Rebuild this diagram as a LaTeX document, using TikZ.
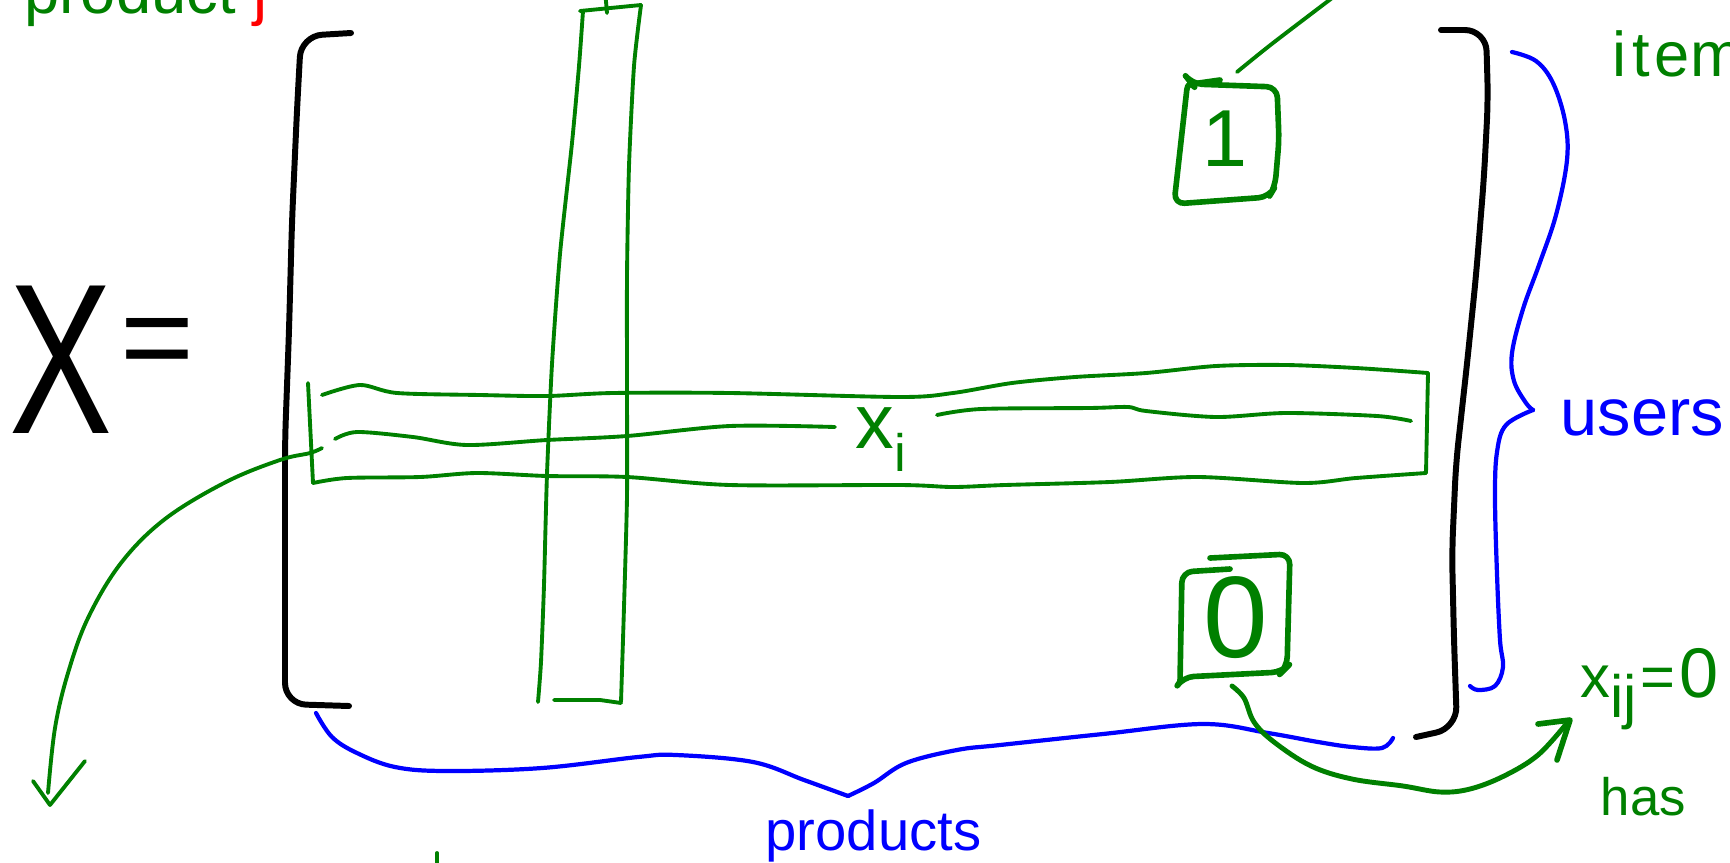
\documentclass[tikz,border=0pt]{standalone}
\usepackage{fontspec}
\setmainfont{Liberation Sans}
\definecolor{pgreen}{RGB}{0,128,0}
\definecolor{pblue}{RGB}{0,0,255}
\definecolor{pred}{RGB}{255,0,0}
\begin{document}
\begin{tikzpicture}[x=0.1mm,y=-0.1mm, line cap=round, line join=round,
  blk/.style={draw=black,line width=1.7pt,rounded corners=6pt},
  grn/.style={draw=pgreen,line width=1.1pt},
  grnb/.style={draw=pgreen,line width=1.6pt,rounded corners=3pt},
  blu/.style={draw=pblue,line width=1.2pt},
  lbl/.style={inner sep=0pt, anchor=base west},
  ctr/.style={inner sep=0pt, anchor=center},
]
\useasboundingbox (0,0) rectangle (1730,862);
\clip (0,0) rectangle (1730,862);

% ---------- texts ----------
\node[lbl, text=pgreen, font=\fontsize{18}{18}\selectfont] (prod) at (24,13) {product \textcolor{pred}{j}};
\node[lbl, font=\fontsize{61}{61}\selectfont] (X) at (9,433) {\scalebox{0.72}[1]{X}};
\node[ctr, font=\fontsize{36}{36}\selectfont] (eq) at (157,349) {=};
\node[lbl, text=pgreen, font=\fontsize{22}{22}\selectfont] (xi) at (855,448) {x\raisebox{-0.3em}{\fontsize{15}{15}\selectfont i}};
\node[lbl, text=pblue, font=\fontsize{19}{19}\selectfont] (users) at (1560,435) {users};
\node[lbl, text=pgreen, font=\fontsize{18}{18}\selectfont] (items) at (1612,76) {i\kern1.5pt t\kern1.5pt em};
\node[lbl, text=pblue, font=\fontsize{16}{16}\selectfont] (products) at (765,850) {products};
\node[lbl, text=pgreen, font=\fontsize{17}{17}\selectfont] (xij) at (1580,697) {x\raisebox{-0.35em}{ij}\kern1pt=\kern1pt{\fontsize{20}{20}\selectfont 0}};
\node[lbl, text=pgreen, font=\fontsize{15}{15}\selectfont] (has) at (1600,815) {has};
\node[ctr, text=pgreen, font=\fontsize{23}{23}\selectfont] (one) at (1225,139) {1};
\node[ctr, text=pgreen, font=\fontsize{33}{33}\selectfont] (zero) at (1236,618) {0};

% ---------- matrix brackets ----------
\draw[blk] (351,33) -- (301,36) -- (297,110) -- (292,221) -- (289,331) -- (285,441) -- (285,552) -- (285,704) -- (349,706);
\draw[blk] (1441,30) -- (1486,30) -- (1488,100) -- (1484,177) -- (1476,276) -- (1467,364) -- (1456,463) -- (1452,552) -- (1454,640) -- (1457,728) -- (1416,737);

% ---------- column j ----------
\draw[grn] plot[smooth, tension=0.4] coordinates {(583,11) (579,66) (572,143) (560,254) (552,364) (547,474) (544,585) (541,662) (538,702)};
\draw[grn] plot[smooth, tension=0.4] coordinates {(641,5) (634,66) (629,166) (627,276) (627,386) (627,496) (624,607) (621,702)};
\draw[grn] (554,700) -- (600,700) -- (621,703);
\draw[grn] (580,11) -- (641,5);
\coordinate (colTop) at (607,13);
\coordinate (colUp) at (605,-10);
\draw[grn] (colTop) -- (colUp);

% ---------- row i ----------
\draw[grn] (308,383) -- (313,483);
\draw[grn] plot[smooth, tension=0.5] coordinates {(313,483) (347,478) (420,477) (477,473) (547,476) (627,477) (730,485) (900,485) (953,487) (1005,485) (1110,482) (1198,477) (1303,483) (1356,478) (1426,473)};
\draw[grn] (1426,473) -- (1428,373);
\draw[grn] plot[smooth, tension=0.5] coordinates {(322,395) (360,385) (397,393) (480,395) (547,396) (613,393) (730,393) (900,397) (953,393) (1012,383) (1075,377) (1146,373) (1216,366) (1286,365) (1356,368) (1428,373)};
\draw[grn] plot[smooth, tension=0.5] coordinates {(335,439) (357,432) (413,437) (467,445) (547,440) (627,436) (730,426) (835,427)};
\draw[grn] plot[smooth, tension=0.5] coordinates {(937,415) (981,409) (1089,408) (1128,407) (1146,411) (1216,417) (1286,413) (1377,416) (1411,421)};

% ---------- box with 1 ----------
\draw[grnb] (1188,79) -- (1174,204) -- (1269,197) -- (1275,187) -- (1279,140) -- (1277,87) -- (1192,84) -- cycle;
\draw[grnb] (1192,84) -- (1220,80);
\coordinate (boxOneTop) at (1237,72);
\coordinate (boxOneUp) at (1340,-8);
\draw[grn] plot[smooth, tension=0.5] coordinates {(boxOneTop) (1273,43) (boxOneUp)};

% ---------- box with 0 ----------
\draw[grnb] (1210,558) -- (1290,554) -- (1287,667) -- (1282,672) -- (1183,677) -- (1179,683);
\draw[grnb] (1230,569) -- (1182,572) -- (1180,682);

% ---------- blue braces ----------
\draw[blu] plot[smooth, tension=0.6] coordinates {(1512,52) (1536,61) (1553,83) (1565,121) (1567,160) (1556,215) (1539,265) (1523,309) (1512,353) (1514,381) (1526,403) (1533,410)};
\draw[blu] plot[smooth, tension=0.6] coordinates {(1533,410) (1506,425) (1497,452) (1495,497) (1497,574) (1500,640) (1503,667) (1495,686) (1478,690) (1470,686)};
\draw[blu] plot[smooth, tension=0.6] coordinates {(316,713) (332,737) (357,753) (395,767) (446,771) (542,768) (638,757) (676,755) (753,762) (804,780) (848,796)};
\draw[blu] plot[smooth, tension=0.6] coordinates {(848,796) (874,783) (906,763) (957,750) (1000,745) (1103,734) (1203,724) (1268,733) (1318,742) (1352,747) (1382,748) (1393,738)};

% ---------- green arrows ----------
\coordinate (zeroOut) at (1232,686);
\coordinate (xijIn) at (1567,723);
\draw[grn, line width=1.4pt] plot[smooth, tension=0.6] coordinates {(zeroOut) (1244,698) (1254,722) (1274,742) (1311,766) (1352,779) (1403,786) (1440,792) (1470,789) (1504,776) (1538,755) (xijIn)};
\draw[grn, line width=1.6pt] (1538,724) -- (1570,720) -- (1557,760);

\coordinate (rowOut) at (322,448);
\coordinate (leftTip) at (48,793);
\draw[grn] plot[smooth, tension=0.6] coordinates {(rowOut) (310,453) (280,460) (226,482) (165,519) (121,563) (88,618) (68,673) (55,728) (leftTip)};
\draw[grn] (33,781) -- (50,805) -- (85,761);

\draw[grn] (437,853) -- (437,875);
\end{tikzpicture}
\end{document}
